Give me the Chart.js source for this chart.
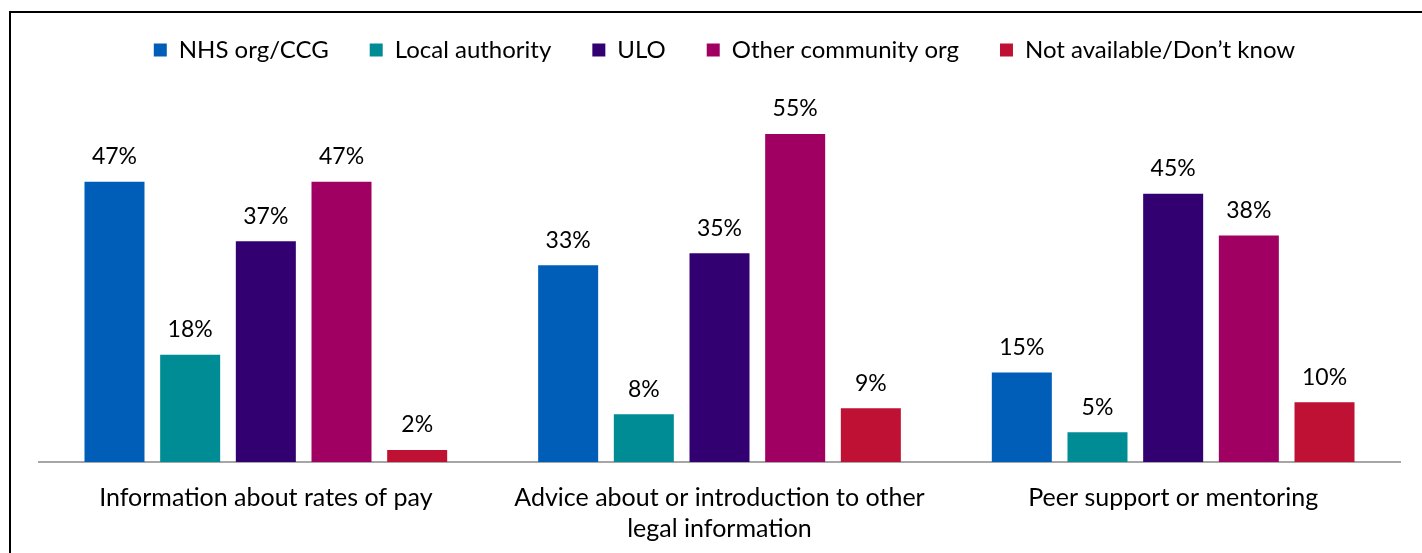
<!DOCTYPE html>
<html>
<head>
<meta charset="utf-8">
<script src="https://cdn.jsdelivr.net/npm/chart.js@4/dist/chart.umd.min.js"></script>
<style>
html,body{margin:0;padding:0;background:#fff;overflow:hidden;}
#frame{position:absolute;left:9px;top:11px;width:1500px;height:700px;border:2px solid #000;box-sizing:border-box;}
#wrap{position:absolute;left:0;top:0;width:1422px;height:553px;}
</style>
</head>
<body>
<div id="frame"></div>
<div id="wrap"><canvas id="c" width="1422" height="553"></canvas></div>
<script>
const categories = [
  "Information about rates of pay",
  ["Advice about or introduction to other", "legal information"],
  "Peer support or mentoring"
];
const seriesNames = ["NHS org/CCG", "Local authority", "ULO", "Other community org", "Not available/Don\u2019t know"];
const nhsOrg = [47, 33, 15];
const localAuthority = [18, 8, 5];
const ulo = [37, 35, 45];
const otherCommunity = [47, 55, 38];
const notAvailable = [2, 9, 10];
const colors = ["#005EB8", "#008C95", "#330072", "#A00062", "#BE1133"];

const FONT = "Lato, 'Open Sans', sans-serif";
const values = [nhsOrg, localAuthority, ulo, otherCommunity, notAvailable];

const labelPlugin = {
  id: 'barLabels',
  afterLayout(chart) {
    if (chart.legend) {
      chart.legend.left += 5;
      chart.legend.right += 5;
      chart.legend.top -= 3;
      chart.legend.bottom -= 3;
    }
  },
  afterDatasetsDraw(chart) {
    const ctx = chart.ctx;
    ctx.save();
    ctx.font = "23px " + FONT;
    ctx.fillStyle = "#000";
    ctx.textAlign = "center";
    ctx.textBaseline = "middle";
    chart.data.datasets.forEach((ds, i) => {
      const meta = chart.getDatasetMeta(i);
      meta.data.forEach((bar, j) => {
        ctx.fillText(ds.data[j] + "%", bar.x, bar.y - 25);
      });
    });
    ctx.restore();
  }
};

new Chart(document.getElementById('c'), {
  type: 'bar',
  data: {
    labels: categories,
    datasets: seriesNames.map((n, i) => ({
      label: n,
      data: values[i],
      backgroundColor: colors[i],
      borderWidth: 0,
      categoryPercentage: 0.834,
      barPercentage: 0.793
    }))
  },
  options: {
    responsive: false,
    animation: false,
    devicePixelRatio: 1,
    layout: { padding: { left: 39, right: 22, top: 0, bottom: 9 } },
    plugins: {
      legend: {
        display: true,
        position: 'top',
        labels: {
          boxWidth: 13,
          boxHeight: 13,
          padding: 41,
          color: "#000",
          font: { size: 24, family: FONT }
        }
      },
      tooltip: { enabled: false }
    },
    scales: {
      x: {
        grid: { display: false, drawTicks: false },
        border: { display: true, color: "#A6A6A6", width: 2 },
        ticks: { color: "#000", font: { size: 25, family: FONT, lineHeight: 1.24 }, padding: 20, maxRotation: 0, autoSkip: false },
        afterFit(scale) { scale.height = 82; }
      },
      y: {
        display: false,
        min: 0,
        max: 64.9
      }
    }
  },
  plugins: [labelPlugin]
});
</script>
</body>
</html>
